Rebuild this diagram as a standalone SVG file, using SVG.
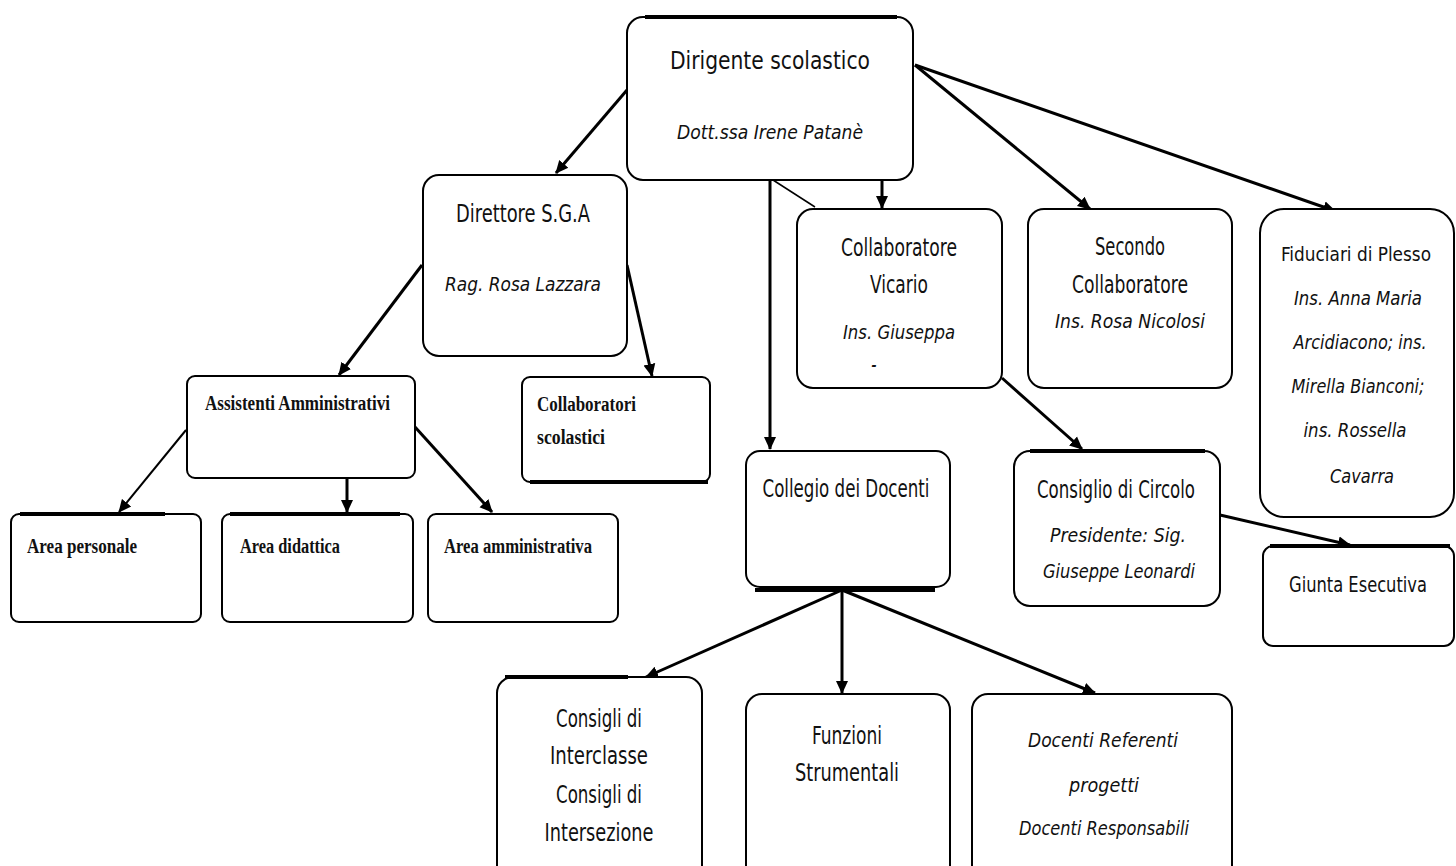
<svg xmlns="http://www.w3.org/2000/svg" width="1456" height="866" viewBox="0 0 1456 866">
<style>
.box{fill:#fff;stroke:#000;stroke-width:2}
.bar{stroke:#000;stroke-width:4}
.c{stroke:#000;stroke-width:3;fill:none}
.t{font-family:"DejaVu Sans Condensed","Liberation Sans Narrow","Liberation Sans",sans-serif;font-size:24px;fill:#111;text-anchor:middle}
.i{font-family:"DejaVu Sans Condensed","Liberation Sans Narrow","Liberation Sans",sans-serif;font-size:20px;font-style:italic;fill:#111;text-anchor:middle}
.s{font-family:"Liberation Serif",serif;font-size:20px;font-weight:bold;fill:#111}
</style>
<defs>
<marker id="ah" markerUnits="userSpaceOnUse" markerWidth="14" markerHeight="14" refX="12" refY="7" orient="auto">
<path d="M0,1 L13,7 L0,13 z" fill="#000"/>
</marker>
</defs>
<rect width="1456" height="866" fill="#fff"/>

<g id="connectors">
<line class="c" x1="627" y1="90" x2="556" y2="173" marker-end="url(#ah)"/>
<line class="c" x1="770" y1="175" x2="770" y2="449" marker-end="url(#ah)"/>
<line class="c" x1="882" y1="175" x2="882" y2="208" marker-end="url(#ah)"/>
<line class="c" x1="773" y1="180" x2="815" y2="207" style="stroke-width:1.5"/>
<line class="c" x1="915" y1="65" x2="1090" y2="209" marker-end="url(#ah)"/>
<line class="c" x1="915" y1="65" x2="1335" y2="211" marker-end="url(#ah)"/>
<line class="c" x1="627" y1="265" x2="652" y2="376" marker-end="url(#ah)"/>
<line class="c" x1="422" y1="265" x2="339" y2="375" marker-end="url(#ah)"/>
<line class="c" x1="186" y1="430" x2="119" y2="512" marker-end="url(#ah)" style="stroke-width:2"/>
<line class="c" x1="347" y1="478" x2="347" y2="512" marker-end="url(#ah)"/>
<line class="c" x1="415" y1="427" x2="492" y2="512" marker-end="url(#ah)"/>
<line class="c" x1="1002" y1="378" x2="1082" y2="449" marker-end="url(#ah)"/>
<line class="c" x1="1220" y1="515" x2="1350" y2="545" marker-end="url(#ah)"/>
<line class="c" x1="842" y1="590" x2="646" y2="677" marker-end="url(#ah)"/>
<line class="c" x1="842" y1="590" x2="842" y2="693" marker-end="url(#ah)"/>
<line class="c" x1="842" y1="590" x2="1095" y2="693" marker-end="url(#ah)"/>
</g>

<g id="dirigente">
<rect class="box" x="627" y="17" width="286" height="163" rx="16"/>
<line class="bar" x1="645" y1="17" x2="897" y2="17"/>
<text class="t" x="770" y="69" textLength="200" lengthAdjust="spacingAndGlyphs">Dirigente scolastico</text>
<text class="i" x="770" y="139" textLength="186" lengthAdjust="spacingAndGlyphs">Dott.ssa Irene Patanè</text>
</g>

<g id="direttore">
<rect class="box" x="423" y="175" width="204" height="181" rx="16"/>
<text class="t" x="523" y="222" textLength="134" lengthAdjust="spacingAndGlyphs">Direttore S.G.A</text>
<text class="i" x="523" y="291" textLength="156" lengthAdjust="spacingAndGlyphs">Rag. Rosa Lazzara</text>
</g>

<g id="collaboratori-scolastici">
<rect class="box" x="522" y="377" width="188" height="105" rx="8"/>
<line class="bar" x1="530" y1="482" x2="708" y2="482"/>
<text class="s" x="537" y="411" textLength="99" lengthAdjust="spacingAndGlyphs">Collaboratori</text>
<text class="s" x="537" y="444" textLength="68" lengthAdjust="spacingAndGlyphs">scolastici</text>
</g>

<g id="assistenti">
<rect class="box" x="187" y="376" width="228" height="102" rx="8"/>
<text class="s" x="205" y="410" textLength="185" lengthAdjust="spacingAndGlyphs">Assistenti Amministrativi</text>
</g>

<g id="area-personale">
<rect class="box" x="11" y="514" width="190" height="108" rx="8"/>
<line class="bar" x1="20" y1="514" x2="165" y2="514"/>
<text class="s" x="27" y="553" textLength="110" lengthAdjust="spacingAndGlyphs">Area personale</text>
</g>

<g id="area-didattica">
<rect class="box" x="222" y="514" width="191" height="108" rx="8"/>
<line class="bar" x1="230" y1="514" x2="400" y2="514"/>
<text class="s" x="240" y="553" textLength="100" lengthAdjust="spacingAndGlyphs">Area didattica</text>
</g>

<g id="area-amministrativa">
<rect class="box" x="428" y="514" width="190" height="108" rx="8"/>
<text class="s" x="444" y="553" textLength="148" lengthAdjust="spacingAndGlyphs">Area amministrativa</text>
</g>

<g id="vicario">
<rect class="box" x="797" y="209" width="205" height="179" rx="16"/>
<text class="t" x="899" y="256" textLength="116" lengthAdjust="spacingAndGlyphs">Collaboratore</text>
<text class="t" x="899" y="293" textLength="58" lengthAdjust="spacingAndGlyphs">Vicario</text>
<text class="i" x="899" y="339" textLength="112" lengthAdjust="spacingAndGlyphs">Ins. Giuseppa</text>
<text class="i" x="874" y="370" style="font-size:14px;font-weight:bold">-</text>
</g>

<g id="secondo">
<rect class="box" x="1028" y="209" width="204" height="179" rx="16"/>
<text class="t" x="1130" y="255" textLength="70" lengthAdjust="spacingAndGlyphs">Secondo</text>
<text class="t" x="1130" y="293" textLength="116" lengthAdjust="spacingAndGlyphs">Collaboratore</text>
<text class="i" x="1130" y="328" textLength="150" lengthAdjust="spacingAndGlyphs">Ins. Rosa Nicolosi</text>
</g>

<g id="fiduciari">
<rect class="box" x="1260" y="209" width="194" height="308" rx="24"/>
<text class="t" x="1356" y="261" style="font-size:20px" textLength="150" lengthAdjust="spacingAndGlyphs">Fiduciari di Plesso</text>
<text class="i" x="1358" y="305" textLength="128" lengthAdjust="spacingAndGlyphs">Ins. Anna Maria</text>
<text class="i" x="1360" y="349" textLength="133" lengthAdjust="spacingAndGlyphs">Arcidiacono; ins.</text>
<text class="i" x="1358" y="393" textLength="133" lengthAdjust="spacingAndGlyphs">Mirella Bianconi;</text>
<text class="i" x="1355" y="437" textLength="103" lengthAdjust="spacingAndGlyphs">ins. Rossella</text>
<text class="i" x="1362" y="483" textLength="64" lengthAdjust="spacingAndGlyphs">Cavarra</text>
</g>

<g id="consiglio-circolo">
<rect class="box" x="1014" y="451" width="206" height="155" rx="16"/>
<line class="bar" x1="1030" y1="451" x2="1205" y2="451"/>
<text class="t" x="1116" y="498" textLength="158" lengthAdjust="spacingAndGlyphs">Consiglio di Circolo</text>
<text class="i" x="1118" y="542" textLength="136" lengthAdjust="spacingAndGlyphs">Presidente: Sig.</text>
<text class="i" x="1119" y="578" textLength="152" lengthAdjust="spacingAndGlyphs">Giuseppe Leonardi</text>
</g>

<g id="giunta">
<rect class="box" x="1263" y="546" width="191" height="100" rx="10"/>
<line class="bar" x1="1270" y1="546" x2="1450" y2="546"/>
<text class="t" x="1358" y="592" style="font-size:21px" textLength="138" lengthAdjust="spacingAndGlyphs">Giunta Esecutiva</text>
</g>

<g id="collegio">
<rect class="box" x="746" y="451" width="204" height="136" rx="14"/>
<line class="bar" x1="755" y1="590" x2="935" y2="590"/>
<text class="t" x="846" y="497" textLength="167" lengthAdjust="spacingAndGlyphs">Collegio dei Docenti</text>
</g>

<g id="consigli-interclasse">
<rect class="box" x="497" y="677" width="205" height="210" rx="16"/>
<line class="bar" x1="505" y1="677" x2="628" y2="677"/>
<text class="t" x="599" y="727" textLength="86" lengthAdjust="spacingAndGlyphs">Consigli di</text>
<text class="t" x="599" y="764" textLength="98" lengthAdjust="spacingAndGlyphs">Interclasse</text>
<text class="t" x="599" y="803" textLength="86" lengthAdjust="spacingAndGlyphs">Consigli di</text>
<text class="t" x="599" y="841" textLength="109" lengthAdjust="spacingAndGlyphs">Intersezione</text>
</g>

<g id="funzioni">
<rect class="box" x="746" y="694" width="204" height="193" rx="16"/>
<text class="t" x="847" y="744" textLength="70" lengthAdjust="spacingAndGlyphs">Funzioni</text>
<text class="t" x="847" y="781" textLength="104" lengthAdjust="spacingAndGlyphs">Strumentali</text>
</g>

<g id="docenti-referenti">
<rect class="box" x="972" y="694" width="260" height="193" rx="16"/>
<text class="i" x="1103" y="747" textLength="150" lengthAdjust="spacingAndGlyphs">Docenti Referenti</text>
<text class="i" x="1104" y="792" textLength="70" lengthAdjust="spacingAndGlyphs">progetti</text>
<text class="i" x="1104" y="835" textLength="170" lengthAdjust="spacingAndGlyphs">Docenti Responsabili</text>
</g>
</svg>
